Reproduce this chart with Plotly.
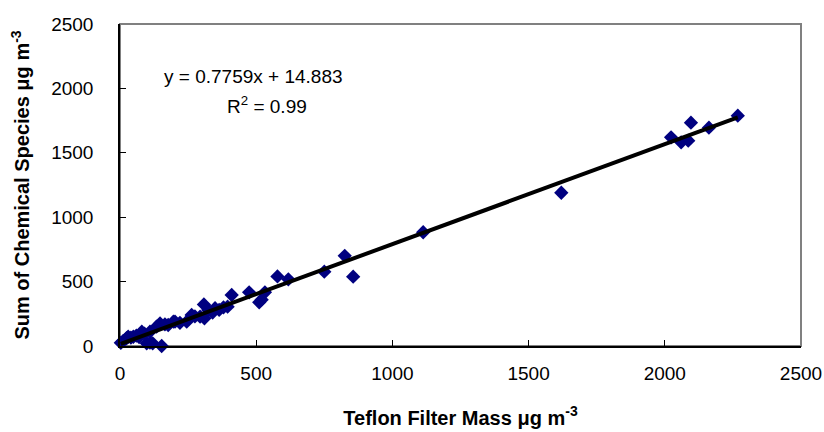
import plotly.graph_objects as go

# Teflon filter mass vs. sum of chemical species (µg m-3)
teflon_mass = [3, 12, 24, 30, 40, 49, 60, 70, 80, 90,
               98, 110, 110, 120, 134, 147, 153, 165, 177, 196,
               202, 220, 245, 263, 275, 294, 308, 310, 324, 340,
               349, 364, 380, 395, 410, 474, 511, 520, 532, 578,
               618, 750, 825, 856, 1113, 1620, 2023, 2060, 2086, 2096,
               2162, 2268]
species_sum = [25, 40, 60, 72, 65, 72, 80, 70, 111, 95,
               21, 111, 26, 21, 150, 175, 0, 168, 163, 189,
               189, 180, 189, 241, 230, 228, 323, 215, 280, 260,
               293, 280, 300, 305, 396, 417, 339, 360, 417, 540,
               518, 577, 700, 538, 883, 1190, 1620, 1581, 1594, 1734,
               1695, 1788]

# Linear regression as reported
slope = 0.7759
intercept = 14.883
r_squared = 0.99

axis_ticks = [0, 500, 1000, 1500, 2000, 2500]

fit_x = [min(teflon_mass), max(teflon_mass)]
fit_y = [slope * v + intercept for v in fit_x]

FONT = "Liberation Sans, Arial, sans-serif"

fig = go.Figure()
fig.add_trace(go.Scatter(
    x=teflon_mass, y=species_sum, mode="markers",
    marker=dict(symbol="diamond", size=11, color="#000080"),
    cliponaxis=False, showlegend=False,
))
fig.add_trace(go.Scatter(
    x=fit_x, y=fit_y, mode="lines",
    line=dict(color="black", width=4),
    cliponaxis=False, showlegend=False,
))

# plot-area frame (grey), axes drawn over it in black
fig.add_shape(type="rect", xref="paper", yref="paper", x0=0, y0=0, x1=1, y1=1,
              line=dict(color="#808080", width=2), layer="below")

fig.add_annotation(x=490, y=2095, xref="x", yref="y",
                   text=f"y = {slope}x + {intercept}", showarrow=False,
                   font=dict(family=FONT, size=19, color="black"))
fig.add_annotation(x=540, y=1868, xref="x", yref="y",
                   text=f"R<sup>2</sup> = {r_squared}", showarrow=False,
                   font=dict(family=FONT, size=19, color="black"))

axis_common = dict(
    range=[0, 2500], tickvals=axis_ticks, ticktext=[str(t) for t in axis_ticks],
    showgrid=False, zeroline=False, showline=True, linecolor="black", linewidth=1.5,
    ticks="inside", ticklen=6, tickcolor="black", mirror=False, automargin=False,
    tickfont=dict(family=FONT, size=19, color="black"),
)

fig.update_layout(
    width=824, height=432,
    margin=dict(l=120, r=23, t=24, b=86),
    paper_bgcolor="white", plot_bgcolor="white",
    xaxis=dict(**axis_common, ticklabelstandoff=9,
               title=dict(text="<b>Teflon Filter Mass μg m<sup>-3</sup></b>",
                          font=dict(family=FONT, size=20, color="black"), standoff=28)),
    yaxis=dict(**axis_common, ticklabelstandoff=21,
               title=dict(text="<b>Sum of Chemical Species μg m<sup>-3</sup></b>",
                          font=dict(family=FONT, size=20, color="black"), standoff=16)),
)

fig.write_html("out.html")
